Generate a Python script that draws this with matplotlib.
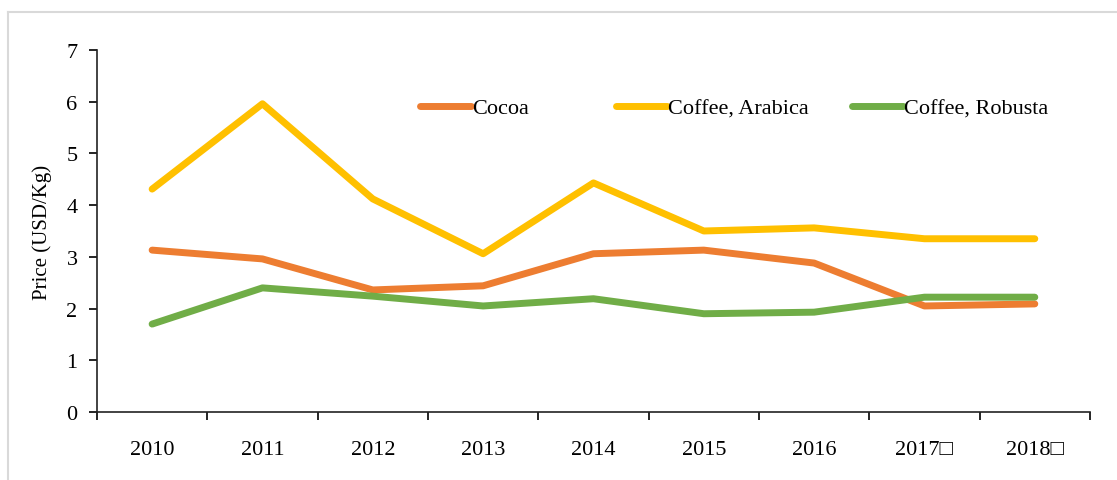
import matplotlib
matplotlib.use("Agg")
import matplotlib.pyplot as plt
from matplotlib.lines import Line2D

years = ["2010", "2011", "2012", "2013", "2014", "2015", "2016", "2017\u25a1", "2018\u25a1"]
cocoa = [3.13, 2.96, 2.36, 2.44, 3.06, 3.13, 2.88, 2.05, 2.09]
arabica = [4.31, 5.96, 4.12, 3.06, 4.43, 3.50, 3.56, 3.35, 3.35]
robusta = [1.70, 2.40, 2.24, 2.05, 2.19, 1.90, 1.93, 2.22, 2.22]

series_names = ["Cocoa", "Coffee, Arabica", "Coffee, Robusta"]
colors = ["#ED7D31", "#FFC000", "#70AD47"]

plt.rcParams['font.family'] = ['Liberation Serif', 'DejaVu Sans']

fig = plt.figure(figsize=(11.17, 4.81), dpi=100)
ax = fig.add_axes([0.0868, 0.1414, 0.8890, 0.7526])

x = list(range(len(years)))
for vals, name, c in zip([cocoa, arabica, robusta], series_names, colors):
    ax.plot(x, vals, color=c, lw=5, label=name, solid_capstyle="round", solid_joinstyle="round")

ax.set_xlim(-0.5, len(years) - 0.5)
ax.set_ylim(0, 7)
ax.set_yticks(range(8))
ax.tick_params(axis="y", labelsize=16, length=6, width=1.2, direction="out", pad=8)

# category boundaries as major ticks, labels at centres
ax.set_xticks([i - 0.5 for i in range(len(years) + 1)])
ax.set_xticklabels([])
ax.set_xticks(x, minor=True)
ax.set_xticklabels(years, minor=True)
ax.tick_params(axis="x", which="major", length=6, width=1.2, direction="out")
ax.tick_params(axis="x", which="minor", length=0, labelsize=16, pad=20)

for s in ["top", "right"]:
    ax.spines[s].set_visible(False)
for s in ["left", "bottom"]:
    ax.spines[s].set_linewidth(1.2)
    ax.spines[s].set_color("#222222")

ax.set_ylabel("Price (USD/Kg)", fontsize=15, labelpad=10)

# one legend entry per series, placed like the original
leg_x = [420, 616, 852]
for name, c, px in zip(series_names, colors, leg_x):
    h = Line2D([0], [0], color=c, lw=5, solid_capstyle="round")
    fig.legend([h], [name], loc="center left", bbox_to_anchor=(px / 1117, 1 - 109 / 481),
               frameon=False, fontsize=16, handlelength=2.3, handletextpad=0.05,
               borderpad=0, borderaxespad=0)

# light frame around the chart area
fig.add_artist(Line2D([8 / 1117, 1.0], [1 - 13 / 481, 1 - 13 / 481], color="#d9d9d9", lw=1.5))
fig.add_artist(Line2D([8 / 1117, 8 / 1117], [0.0, 1 - 13 / 481], color="#d9d9d9", lw=1.5))

fig.savefig("out.png", dpi=100)
